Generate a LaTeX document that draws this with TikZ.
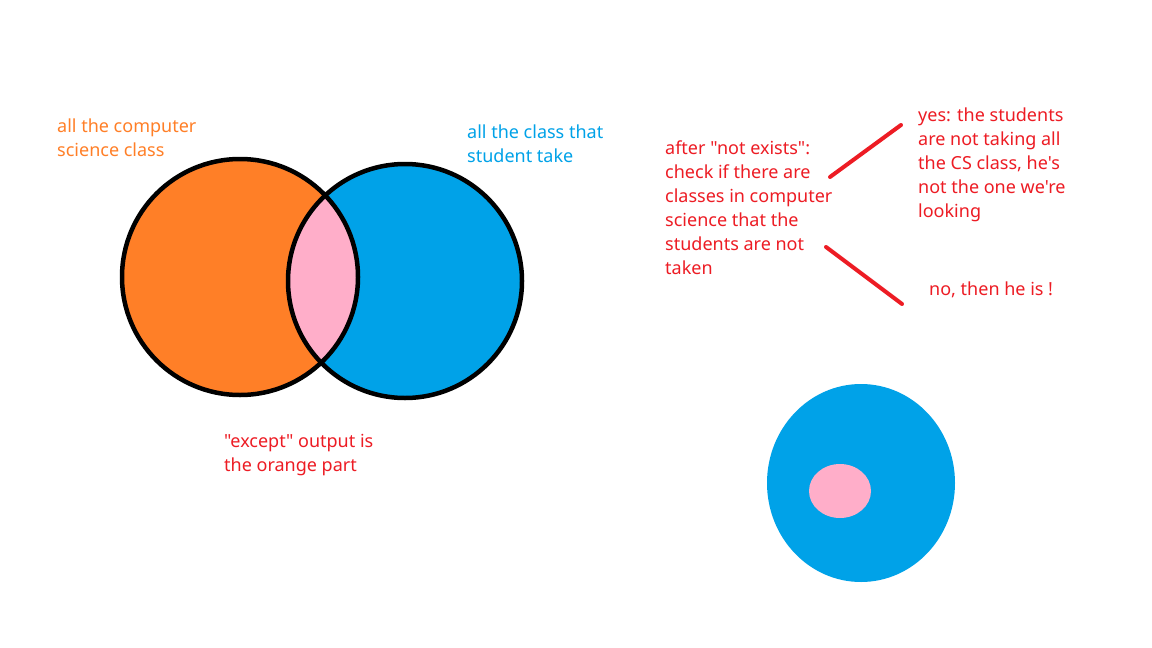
\documentclass[tikz,border=0pt]{standalone}
\usepackage{fontspec}
\setmainfont{Noto Sans}[Ligatures=TeXOff]
\usepackage{xcolor}
\usepackage{tikz}
\usetikzlibrary{positioning,calc}

\definecolor{paintorange}{HTML}{FF7F27}
\definecolor{paintblue}{HTML}{00A2E8}
\definecolor{paintpink}{HTML}{FFAEC9}
\definecolor{paintred}{HTML}{ED1C24}

\begin{document}
\begin{tikzpicture}[x=1pt,y=-1pt,
  note/.style={anchor=base west,align=left,inner sep=0pt,
    font=\fontsize{18}{24}\selectfont},
  rim/.style={draw=black,line width=4.5pt},
  stroke/.style={draw=paintred,line width=4pt,line cap=round}]
  \useasboundingbox[fill=white] (0,0) rectangle (1152,648);

  % venn
  \fill[paintorange] (240,277) circle (118);
  \fill[paintblue] (405,281) circle (117);
  \begin{scope}
    \clip (240,277) circle (118);
    \fill[paintpink] (405,281) circle (117);
  \end{scope}
  \draw[rim] (240,277) circle (118);
  \draw[rim] (405,281) circle (117);

  % base anchor sits on the last line
  \node[note,text=paintorange] (cs) at (57,156) {all the computer\\science class};
  \node[note,text=paintblue] (take) at (467,162) {all the class that\\student take};
  \node[note,text=paintred] (except) at (224,471) {"except" output is\\the orange part};

  % not exists
  \node[note,text=paintred] (check) at (665,274) {after "not exists":\\check if there are\\classes in computer\\science that the\\students are not\\taken};
  \node[note,text=paintred] (yes) at (918,217) {yes: the students\\are not taking all\\the CS class, he's\\not the one we're\\looking};
  \node[note,text=paintred] (no) at (929,295) {no, then he is !};

  \coordinate (a1) at (830,177);
  \coordinate (a2) at (901,125);
  \coordinate (b1) at (826,247);
  \coordinate (b2) at (902,304);
  \draw[stroke] (a1) -- (a2);
  \draw[stroke] (b1) -- (b2);

  % small sketch
  \fill[paintblue] (861,483) ellipse (94 and 99);
  \fill[paintpink] (840,491) ellipse (31 and 27);
\end{tikzpicture}
\end{document}
